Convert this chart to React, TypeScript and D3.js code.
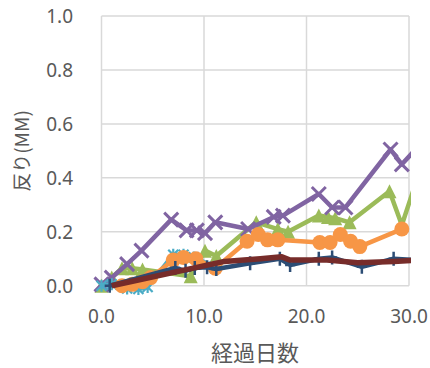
import React from "react";
import * as d3 from "d3";

// Warp (mm) measured against elapsed days, one array of [day, warp] pairs per specimen.
const greenSeries: [number, number][] = [
  [0, 0], [1, 0.03], [2, 0.065], [3, 0.065], [4, 0.06], [8.7, 0.035], [10.1, 0.13],
  [11.2, 0.11], [15.1, 0.235], [17.2, 0.21], [18.2, 0.2], [21.2, 0.26], [22.1, 0.255],
  [22.8, 0.25], [24.2, 0.235], [28.1, 0.35], [29.3, 0.225], [31, 0.42],
];
const purpleSeries: [number, number][] = [
  [0, 0.005], [1, 0.03], [2.5, 0.08], [3.9, 0.13], [6.8, 0.245], [8.3, 0.205],
  [9.3, 0.205], [10.1, 0.195], [11.1, 0.235], [14.3, 0.21], [16.8, 0.255], [17.7, 0.26],
  [21.2, 0.34], [22.5, 0.29], [23.8, 0.29], [28.2, 0.505], [29.3, 0.45], [31, 0.52],
];
const cyanSeries: [number, number][] = [
  [0, 0], [1, 0.005], [2.5, -0.01], [3.6, -0.012], [4.5, -0.005], [7, 0.115],
  [8, 0.115], [9, 0.105], [11, 0.07],
];
const orangeSeries: [number, number][] = [
  [2, 0], [3, 0.005], [4, 0.015], [4.8, 0.03], [7, 0.095], [8, 0.105], [9.2, 0.1],
  [11.1, 0.065], [14.2, 0.165], [15.3, 0.19], [16.2, 0.17], [17.2, 0.17], [21.3, 0.16],
  [22.3, 0.16], [23.3, 0.19], [24.3, 0.165], [25.2, 0.145], [29.3, 0.21],
];
const navySeries: [number, number][] = [
  [0.8, 0], [7.2, 0.066], [8.2, 0.055], [9.1, 0.066], [10.3, 0.068], [11.2, 0.062],
  [14.5, 0.083], [17.4, 0.1], [18.4, 0.077], [21.2, 0.1], [22.5, 0.105], [25.4, 0.07],
  [28.5, 0.1], [31, 0.095],
];
const maroonSeries: [number, number][] = [
  [1, 0], [12, 0.09], [15.5, 0.1], [17.6, 0.107], [18.4, 0.095], [22, 0.095],
  [25, 0.085], [28.5, 0.09], [31, 0.095],
];

const xTicks = [0, 10, 20, 30];
const yTicks = [0, 0.2, 0.4, 0.6, 0.8, 1.0];
const xTitle = "経過日数";
const yTitle = "反り(MM)";

const W = 430;
const H = 368;
const plot = { left: 101.5, right: 409, top: 16, bottom: 285.7 };

const x = d3.scaleLinear().domain([0, 30]).range([plot.left, plot.right]);
const y = d3.scaleLinear().domain([0, 1]).range([plot.bottom, plot.top]);

const lineGen = d3
  .line<[number, number]>()
  .x((d) => x(d[0]))
  .y((d) => y(d[1]));

const textColor = "#595959";
const gridColor = "#D9D9D9";
const font = "'Noto Sans', 'Noto Sans CJK JP', sans-serif";

type Marker = "triangle" | "x" | "star" | "circle" | "plus" | "none";

const seriesList: { data: [number, number][]; color: string; marker: Marker }[] = [
  { data: greenSeries, color: "#9BBB59", marker: "triangle" },
  { data: purpleSeries, color: "#8064A2", marker: "x" },
  { data: cyanSeries, color: "#4BACC6", marker: "star" },
  { data: orangeSeries, color: "#F79646", marker: "circle" },
  { data: navySeries, color: "#2C4D75", marker: "plus" },
  { data: maroonSeries, color: "#772C2A", marker: "none" },
];

function MarkerShape({ kind, cx, cy, color }: { kind: Marker; cx: number; cy: number; color: string }) {
  const s = 7;
  switch (kind) {
    case "triangle":
      return (
        <path
          d={`M${cx},${cy - s} L${cx + s},${cy + s} L${cx - s},${cy + s} Z`}
          fill={color}
        />
      );
    case "x":
      return (
        <path
          d={`M${cx - s},${cy - s} L${cx + s},${cy + s} M${cx - s},${cy + s} L${cx + s},${cy - s}`}
          stroke={color}
          strokeWidth={3}
        />
      );
    case "star":
      return (
        <path
          d={`M${cx - 5},${cy - 5} L${cx + 5},${cy + 5} M${cx - 5},${cy + 5} L${cx + 5},${cy - 5} M${cx},${cy - 6} L${cx},${cy + 6}`}
          stroke={color}
          strokeWidth={2.2}
        />
      );
    case "circle":
      return <circle cx={cx} cy={cy} r={7.5} fill={color} />;
    case "plus":
      return (
        <path
          d={`M${cx},${cy - 7} L${cx},${cy + 7} M${cx - 5},${cy} L${cx + 5},${cy}`}
          stroke={color}
          strokeWidth={2.5}
        />
      );
    default:
      return null;
  }
}

export default function App() {
  return (
    <svg
      width={W}
      height={H}
      style={{ position: "absolute", left: 0, top: 0, background: "#fff" }}
      fontFamily={font}
    >
      <defs>
        <clipPath id="plotClip">
          <rect x={0} y={0} width={plot.right + 2} height={H} />
        </clipPath>
      </defs>

      {/* grid */}
      {yTicks.map((t) => (
        <line
          key={"gy" + t}
          x1={plot.left}
          x2={plot.right}
          y1={y(t)}
          y2={y(t)}
          stroke={gridColor}
          strokeWidth={1.5}
        />
      ))}
      {xTicks.map((t) => (
        <line
          key={"gx" + t}
          x1={x(t)}
          x2={x(t)}
          y1={plot.top}
          y2={plot.bottom}
          stroke={gridColor}
          strokeWidth={1.5}
        />
      ))}

      {/* series */}
      <g clipPath="url(#plotClip)">
        {seriesList.map((s, i) => (
          <g key={i}>
            <path
              d={lineGen(s.data) ?? ""}
              fill="none"
              stroke={s.color}
              strokeWidth={s.marker === "none" ? 5.5 : 4.5}
              strokeLinejoin="round"
            />
            {s.data.map((d, j) => (
              <MarkerShape key={j} kind={s.marker} cx={x(d[0])} cy={y(d[1])} color={s.color} />
            ))}
          </g>
        ))}
      </g>

      {/* tick labels */}
      {yTicks.map((t) => (
        <text
          key={"ty" + t}
          x={73}
          y={y(t)}
          dy="0.36em"
          textAnchor="end"
          fontSize={19}
          fill={textColor}
        >
          {d3.format(".1f")(t)}
        </text>
      ))}
      {xTicks.map((t) => (
        <text
          key={"tx" + t}
          x={x(t)}
          y={323}
          textAnchor="middle"
          fontSize={19}
          fill={textColor}
        >
          {d3.format(".1f")(t)}
        </text>
      ))}

      {/* axis titles */}
      <text
        x={255}
        y={353}
        dy="0.36em"
        textAnchor="middle"
        fontSize={22}
        fill={textColor}
        fontFamily="'Noto Sans CJK JP', sans-serif"
      >
        {xTitle}
      </text>
      <text
        transform={`translate(22,151) rotate(-90)`}
        dy="0.36em"
        textAnchor="middle"
        fontSize={19}
        fill={textColor}
        fontFamily="'Noto Sans CJK JP', sans-serif"
      >
        {yTitle}
      </text>
    </svg>
  );
}
